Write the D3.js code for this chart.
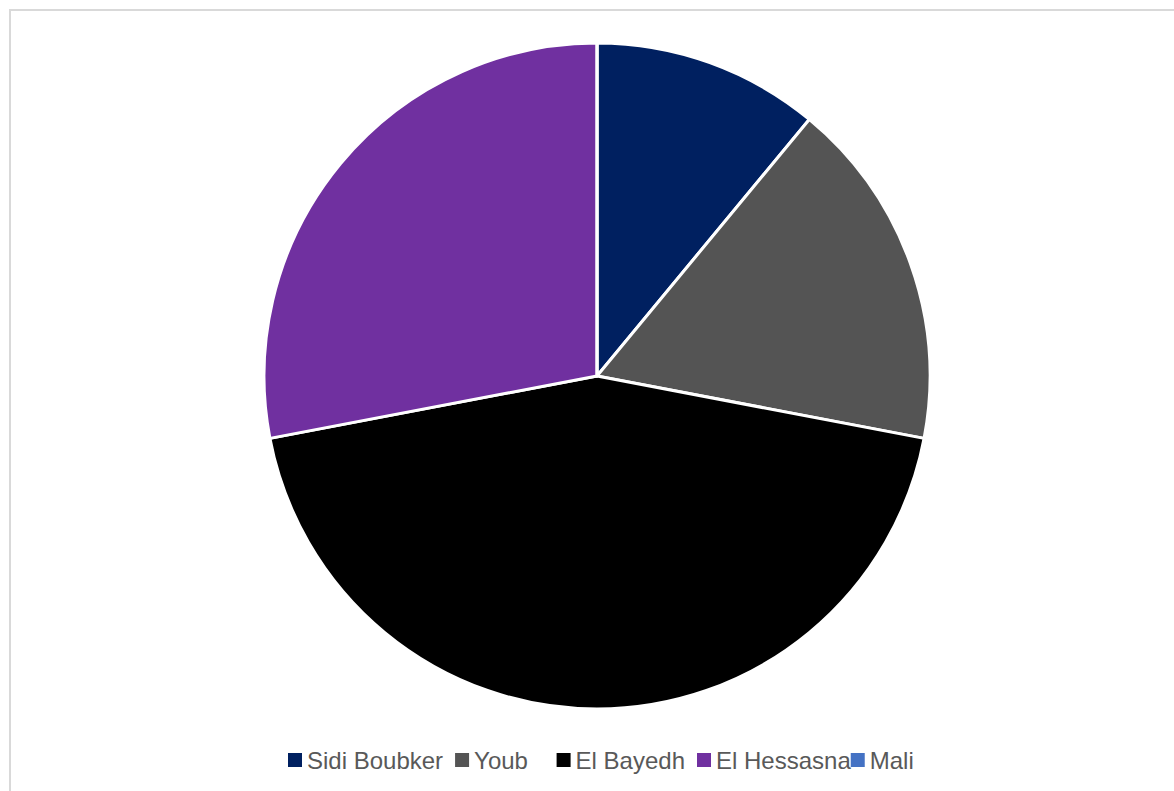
<!DOCTYPE html>
<html>
<head>
<meta charset="utf-8">
<script src="https://cdn.jsdelivr.net/npm/d3@7"></script>
<style>
  body { margin: 0; background: #fff; }
  svg { display: block; }
</style>
</head>
<body>
<div id="chart"></div>
<script>
// DATA (SHARE OF THE PIE, PERCENT)
var categories = ["Sidi Boubker", "Youb ", "El Bayedh", "El Hessasna", "Mali"];
var values = [11, 17, 44, 28, 0];
var colors = ["#002060", "#545454", "#000000", "#7030A0", "#4472C4"];

var width = 1174,
    height = 791;

var svg = d3.select("#chart").append("svg")
  .attr("width", width)
  .attr("height", height);

// CHART AREA BORDER
svg.append("rect")
  .attr("x", 10)
  .attr("y", 10)
  .attr("width", width)
  .attr("height", height)
  .attr("fill", "none")
  .attr("stroke", "#d9d9d9")
  .attr("stroke-width", 2);

var cx = 597, cy = 376, radius = 333;

var pie = d3.pie().sort(null).value(function(d){ return d; });
var arc = d3.arc().innerRadius(0).outerRadius(radius);

var color = d3.scaleOrdinal().domain(categories).range(colors);

svg.append("g")
  .attr("transform", "translate(" + cx + "," + cy + ")")
  .selectAll("path")
  .data(pie(values))
  .enter().append("path")
    .attr("d", arc)
    .attr("fill", function(d, i){ return color(categories[i]); })
    .attr("stroke", "#fff")
    .attr("stroke-width", 3)
    .attr("stroke-linejoin", "round");

// LEGEND - ITEMS PLACED ONE AFTER THE OTHER
var legend = svg.append("g").attr("transform", "translate(0, 760)");
var gaps = [12, 22, 12, 0, 0];
var x = 288;
categories.forEach(function(name, i){
  legend.append("rect")
    .attr("x", x)
    .attr("y", -7)
    .attr("width", 14)
    .attr("height", 14)
    .attr("fill", color(name));
  var t = legend.append("text")
    .attr("x", x + 19)
    .attr("y", 8.5)
    .attr("font-family", "Liberation Sans, Arial, sans-serif")
    .attr("font-size", 24)
    .attr("fill", "#595959")
    .attr("xml:space", "preserve")
    .style("white-space", "pre")
    .text(name);
  x = x + 19 + t.node().getComputedTextLength() + gaps[i];
});
</script>
</body>
</html>
